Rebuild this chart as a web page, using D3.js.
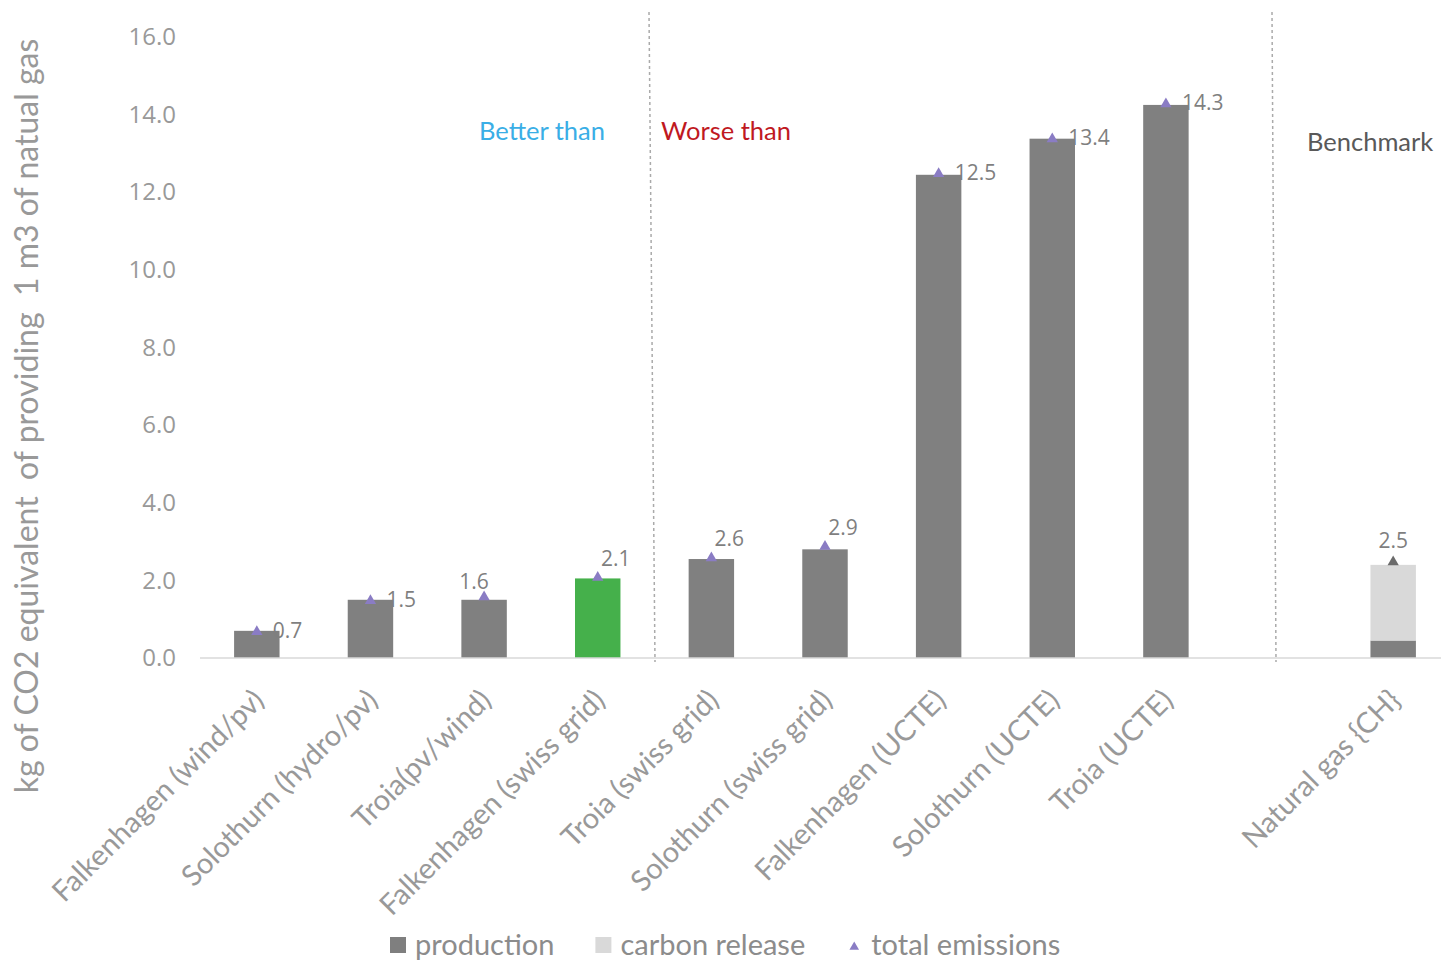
<!DOCTYPE html>
<html>
<head>
<meta charset="utf-8">
<script src="https://cdn.jsdelivr.net/npm/d3@7"></script>
<style>
  html, body { margin: 0; padding: 0; background: #fff; }
  svg { display: block; }
  text { font-family: Lato, "Open Sans", sans-serif; }
</style>
</head>
<body>
<svg id="chart" width="1441" height="962"></svg>
<script>
// Categories (an empty slot separates the benchmark from the scenarios)
const categories = [
  "Falkenhagen (wind/pv)",
  "Solothurn (hydro/pv)",
  "Troia(pv/wind)",
  "Falkenhagen (swiss grid)",
  "Troia (swiss grid)",
  "Solothurn (swiss grid)",
  "Falkenhagen (UCTE)",
  "Solothurn (UCTE)",
  "Troia (UCTE)",
  "",
  "Natural gas {CH}"
];

// kg CO2-eq per m3 of natural gas
const production    = [0.7, 1.5, 1.5, 2.05, 2.55, 2.8, 12.45, 13.38, 14.25, null, 0.45];
const carbonRelease = [0, 0, 0, 0, 0, 0, 0, 0, 0, null, 1.95];
const totalEmissions = [0.7, 1.5, 1.6, 2.1, 2.6, 2.9, 12.5, 13.4, 14.3, null, 2.5];

// Where each value label sits relative to its marker
const labelPlacement = ["right", "right", "aboveLeft", "aboveRight", "aboveRight", "aboveRight", "right", "right", "right", null, "above"];

const yTicks = [0, 2, 4, 6, 8, 10, 12, 14, 16];
const highlightIndex = 3;
const benchmarkIndex = 10;

const legendItems = ["production", "carbon release", "total emissions"];

const svg = d3.select("#chart");

const x = d3.scaleBand()
  .domain(d3.range(categories.length))
  .range([200, 1450])
  .paddingInner(0.6)
  .paddingOuter(0.3);

const y = d3.scaleLinear().domain([0, 16]).range([658, 37]);

const grey = "#999999";

// Y tick labels
const yAxis = d3.axisLeft(y)
  .tickValues(yTicks)
  .tickFormat(d3.format(".1f"))
  .tickSize(0)
  .tickPadding(0);
const yg = svg.append("g").attr("transform", "translate(176,0)").call(yAxis);
yg.select(".domain").remove();
yg.selectAll("text")
  .attr("fill", grey)
  .style("font-family", "'Open Sans', sans-serif")
  .style("font-size", "24px");

// Y axis title
svg.append("text")
  .attr("transform", "translate(38,416) rotate(-90)")
  .attr("text-anchor", "middle")
  .attr("fill", grey)
  .style("font-size", "32px")
  .style("white-space", "pre")
  .text("kg of CO2 equivalent  of providing  1 m3 of natual gas");

// Section dividers
const dividers = [
  { top: 649, bottom: 655 },
  { top: 1272, bottom: 1276 }
];
svg.selectAll("line.divider").data(dividers).join("line")
  .attr("class", "divider")
  .attr("x1", d => d.top).attr("y1", 12)
  .attr("x2", d => d.bottom).attr("y2", 662)
  .attr("stroke", "#aaaaaa")
  .attr("stroke-width", 1.5)
  .attr("stroke-dasharray", "3,3");

// Stacked bars: production, then carbon release on top
const idx = d3.range(categories.length).filter(i => production[i] != null);

svg.selectAll("rect.prod").data(idx).join("rect")
  .attr("class", "prod")
  .attr("x", i => x(i))
  .attr("width", x.bandwidth())
  .attr("y", i => y(production[i]))
  .attr("height", i => y(0) - y(production[i]))
  .attr("fill", i => i === highlightIndex ? "#45b04b" : "#808080");

svg.selectAll("rect.release").data(idx.filter(i => carbonRelease[i] > 0)).join("rect")
  .attr("class", "release")
  .attr("x", i => x(i))
  .attr("width", x.bandwidth())
  .attr("y", i => y(production[i] + carbonRelease[i]))
  .attr("height", i => y(production[i]) - y(production[i] + carbonRelease[i]))
  .attr("fill", "#d9d9d9");

// X axis line
svg.append("line")
  .attr("x1", 200).attr("x2", 1441)
  .attr("y1", y(0)).attr("y2", y(0))
  .attr("stroke", "#d9d9d9").attr("stroke-width", 1.5);

// Total emission markers
const tri = d3.symbol().type(d3.symbolTriangle).size(55);
svg.selectAll("path.total").data(idx).join("path")
  .attr("class", "total")
  .attr("d", tri)
  .attr("transform", i => `translate(${x(i) + x.bandwidth() / 2},${y(totalEmissions[i]) + 1})`)
  .attr("fill", i => i === benchmarkIndex ? "#6b6b6b" : "#8a7cc4");

// Value labels
const placeOffset = {
  right:      { dx: 16,  dy: 0,   anchor: "start" },
  above:      { dx: 0,   dy: -20, anchor: "middle" },
  aboveLeft:  { dx: -10, dy: -14, anchor: "middle" },
  aboveRight: { dx: 18,  dy: -18, anchor: "middle" }
};
svg.selectAll("text.value").data(idx).join("text")
  .attr("class", "value")
  .attr("x", i => x(i) + x.bandwidth() / 2 + placeOffset[labelPlacement[i]].dx)
  .attr("y", i => y(totalEmissions[i]) + placeOffset[labelPlacement[i]].dy)
  .attr("dy", "0.35em")
  .attr("text-anchor", i => placeOffset[labelPlacement[i]].anchor)
  .attr("fill", "#7f7f7f")
  .style("font-family", "'Open Sans', sans-serif")
  .style("font-size", "21px")
  .text(i => d3.format(".1f")(totalEmissions[i]));

// Category labels, rotated
svg.selectAll("text.cat").data(idx).join("text")
  .attr("class", "cat")
  .attr("text-anchor", "end")
  .attr("transform", i => `translate(${x(i) + x.bandwidth() / 2 + 9},${702}) rotate(-45)`)
  .attr("fill", grey)
  .style("font-size", "29px")
  .text(i => categories[i]);

// Section annotations
svg.append("text").attr("x", 542).attr("y", 140).attr("text-anchor", "middle")
  .attr("fill", "#3aaee6").style("font-size", "25.5px").text("Better than");
svg.append("text").attr("x", 661).attr("y", 140).attr("text-anchor", "start")
  .attr("fill", "#c0191f").style("font-size", "25.5px").text("Worse than");
svg.append("text").attr("x", 1307).attr("y", 151).attr("text-anchor", "start")
  .attr("fill", "#595959").style("font-size", "25.5px").text("Benchmark");

// Legend
const legend = svg.append("g").attr("transform", "translate(390,945)");
let lx = 0;
legendItems.forEach((name, k) => {
  if (k < 2) {
    legend.append("rect")
      .attr("x", lx).attr("y", -8).attr("width", 16).attr("height", 16)
      .attr("fill", k === 0 ? "#7f7f7f" : "#d9d9d9");
  } else {
    legend.append("path")
      .attr("d", d3.symbol().type(d3.symbolTriangle).size(40))
      .attr("transform", `translate(${lx + 8},2)`)
      .attr("fill", "#8a7cc4");
  }
  const t = legend.append("text")
    .attr("x", lx + 25).attr("y", 0).attr("dy", "0.35em")
    .attr("fill", "#8c8c8c").style("font-size", "29px")
    .text(name);
  lx += 25 + t.node().getComputedTextLength() + 41;
});
</script>
</body>
</html>
